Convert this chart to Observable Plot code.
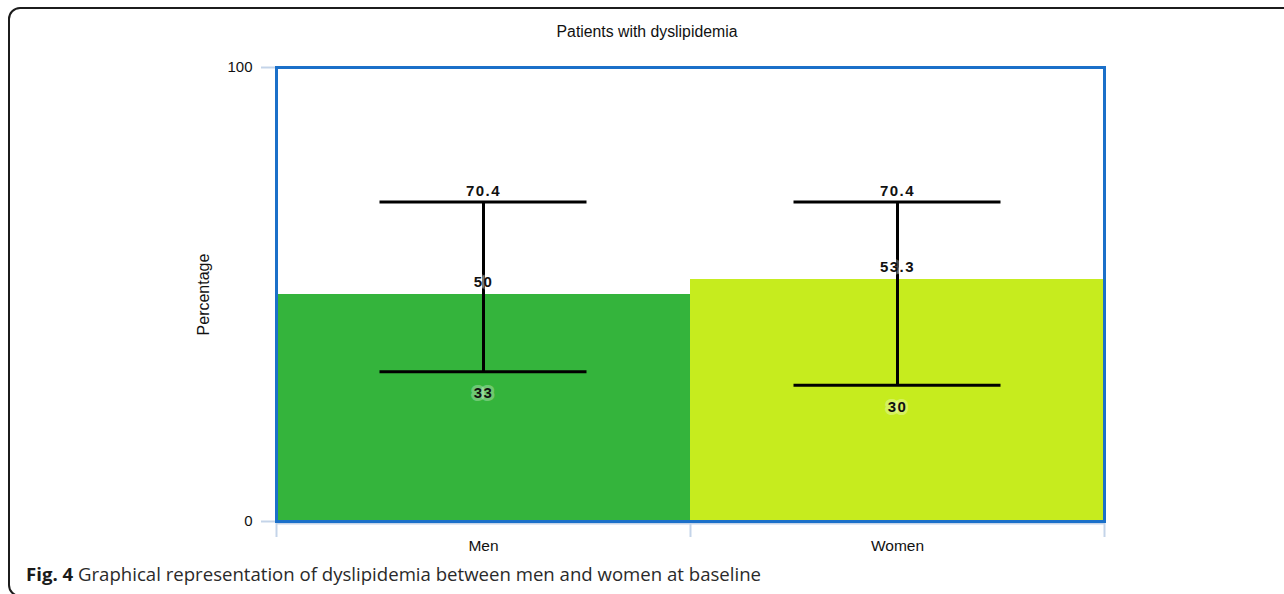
<!DOCTYPE html>
<html>
<head>
<meta charset="utf-8">
<script src="https://cdn.jsdelivr.net/npm/d3@7"></script>
<script src="https://cdn.jsdelivr.net/npm/@observablehq/plot@0.6"></script>
<style>
  html, body { margin: 0; padding: 0; background: #fff; }
  #figure { position: relative; width: 1284px; height: 594px; overflow: hidden; }
  #border {
    position: absolute; left: 8px; top: 7px; width: 1300px; height: 590px;
    border: 2px solid #1c1c1c; border-radius: 12px; box-sizing: border-box;
  }
  #title {
    position: absolute; left: 0; top: 23px; width: 1294px; text-align: center;
    font-family: "Liberation Sans", Arial, sans-serif; font-size: 15.8px; line-height: 18px; color: #111;
  }
  #chart { position: absolute; left: 0; top: 0; }
  #caption {
    position: absolute; left: 26px; top: 562px; white-space: nowrap;
    font-family: "Open Sans", sans-serif; font-size: 18.6px; line-height: 24px; color: #2a2a2a;
  }
  #caption b { font-weight: 700; color: #1a1a1a; }
</style>
</head>
<body>
<div id="figure">
  <div id="border"></div>
  <div id="title">Patients with dyslipidemia</div>
  <div id="chart"></div>
  <div id="caption"><b>Fig. 4</b> Graphical representation of dyslipidemia between men and women at baseline</div>
</div>
<script>
// Share of patients with dyslipidemia, with lower/upper interval bounds
const groups = ["Men", "Women"];
const percentages = [50, 53.3];
const lowerBounds = [33, 30];
const upperBounds = [70.4, 70.4];
const groupColors = ["#34b43c", "#c6ec1e"];
const yTicks = [0, 100];

// Each group occupies one unit on a linear x scale so band edges can carry ticks
const rows = groups.map((group, i) => ({
  group,
  left: i,
  right: i + 1,
  mid: i + 0.5,
  capLeft: i + 0.25,
  capRight: i + 0.75,
  pct: percentages[i],
  lo: lowerBounds[i],
  hi: upperBounds[i],
  color: groupColors[i]
}));

const axisBlue = "#c4d4e9";
const labelStyle = {
  fontSize: 15,
  fontWeight: "bold",
  fill: "#111",
  stroke: "#ffffff",
  strokeOpacity: 0.3,
  strokeWidth: 6,
  strokeLinejoin: "round",
  paintOrder: "stroke"
};

const chart = Plot.plot({
  width: 1284,
  height: 560,
  marginTop: 67,
  marginBottom: 39,
  marginLeft: 276,
  marginRight: 180,
  x: {domain: [0, groups.length]},
  y: {domain: [0, 100]},
  color: {type: "identity"},
  style: {fontFamily: "'Liberation Sans', Arial, sans-serif", fontSize: "15px", color: "#111", background: "transparent"},
  marks: [
    Plot.axisY({
      ticks: yTicks, tickSize: 15, tickPadding: 9, stroke: axisBlue, strokeWidth: 2,
      fontSize: 15, tickFormat: d => String(d), label: null
    }),
    Plot.axisY({
      ticks: [], fontSize: 16,
      label: "Percentage", labelAnchor: "center", labelOffset: 79, labelArrow: "none"
    }),
    Plot.axisX({
      ticks: rows.map(r => r.left).concat(groups.length), tickSize: 16, stroke: axisBlue, strokeWidth: 2,
      tickFormat: () => "", label: null
    }),
    Plot.axisX({
      ticks: rows.map(r => r.mid), tickSize: 0, tickPadding: 18, fontSize: 15.5,
      tickFormat: d => groups[Math.floor(d)], label: null
    }),
    Plot.ruleY([0], {stroke: axisBlue, strokeWidth: 2, dy: 2}),
    Plot.rectY(rows, {x1: "left", x2: "right", y: "pct", fill: "color"}),
    Plot.ruleX(rows, {x: "mid", y1: "lo", y2: "hi", stroke: "#000", strokeWidth: 3}),
    Plot.ruleY(rows, {y: "hi", x1: "capLeft", x2: "capRight", stroke: "#000", strokeWidth: 3}),
    Plot.ruleY(rows, {y: "lo", x1: "capLeft", x2: "capRight", stroke: "#000", strokeWidth: 3}),
    Plot.frame({stroke: "#1b70c9", strokeWidth: 3}),
    Plot.text(rows, {x: "mid", y: "hi", text: d => String(d.hi), dy: -11, ...labelStyle}),
    Plot.text(rows, {x: "mid", y: "pct", text: d => String(d.pct), dy: -12, ...labelStyle}),
    Plot.text(rows, {x: "mid", y: "lo", text: d => String(d.lo), dy: 22, ...labelStyle})
  ]
});

d3.select(chart).selectAll('g[aria-label="text"] text').style("letter-spacing", "1.5px");
document.getElementById("chart").appendChild(chart);
</script>
</body>
</html>
